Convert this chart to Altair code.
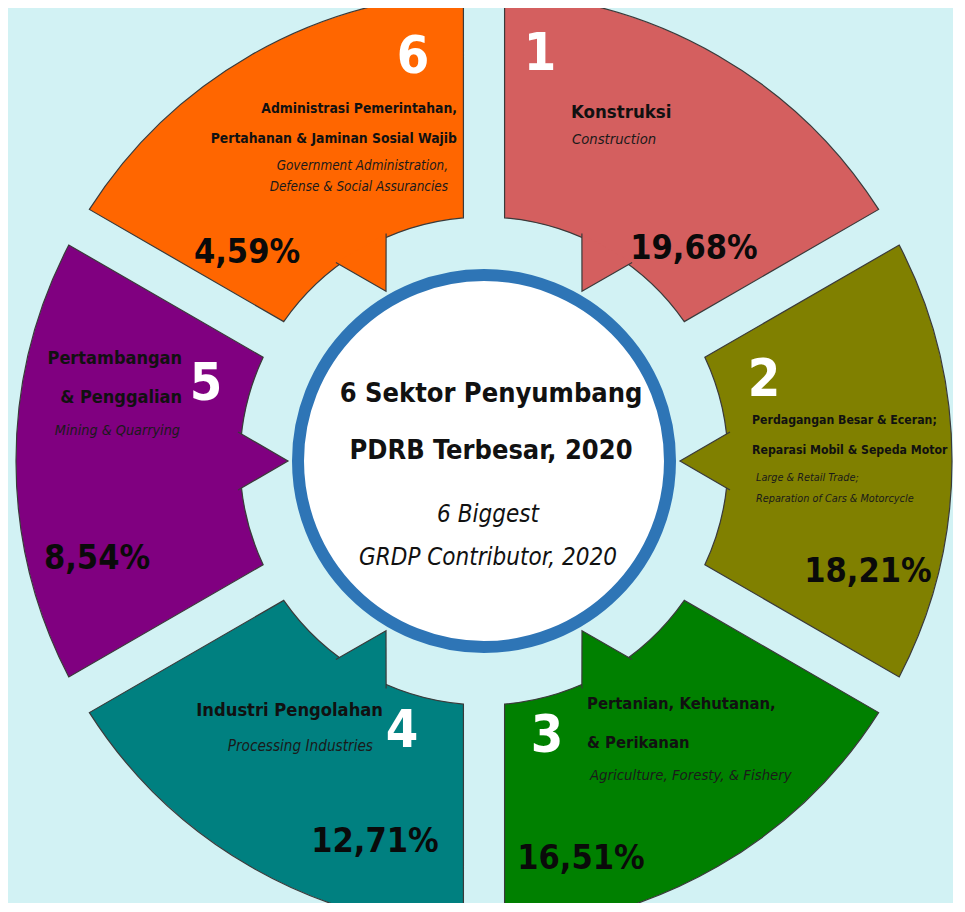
import altair as alt
import pandas as pd

# ---------------- data ----------------
ranks = [1, 2, 3, 4, 5, 6]
sector_id = [
    ["Konstruksi"],
    ["Perdagangan Besar & Eceran;", "Reparasi Mobil & Sepeda Motor"],
    ["Pertanian, Kehutanan,", "& Perikanan"],
    ["Industri Pengolahan"],
    ["Pertambangan", "& Penggalian"],
    ["Administrasi Pemerintahan,", "Pertahanan & Jaminan Sosial Wajib"],
]
sector_en = [
    ["Construction"],
    ["Large & Retail Trade;", "Reparation of Cars & Motorcycle"],
    ["Agriculture, Foresty, & Fishery"],
    ["Processing Industries"],
    ["Mining & Quarrying"],
    ["Government Administration,", "Defense & Social Assurancies"],
]
share_values = [19.68, 18.21, 16.51, 12.71, 8.54, 4.59]
colors = ["#d45f5f", "#808000", "#008000", "#008080", "#800080", "#ff6600"]
title_id = ["6 Sektor Penyumbang", "PDRB Terbesar, 2020"]
title_en = ["6 Biggest", "GRDP Contributor, 2020"]

# ---------------- layout (image coordinates) ----------------
M = 8                      # page margin
CX, CY = 484 - M, 461 - M  # centre of the ring
R_OUT, R_IN = 468, 244
R_TIP, R_BASE = 196, 246
RING_R, RING_W = 186, 12
BG = "#d2f2f4"
FONT = "'Liberation Sans Narrow', 'DejaVu Sans Condensed', 'Roboto', sans-serif"
PCT_SIZE = 34

# per wedge: number (x, baseline), id lines (x, baseline, step, align, size),
# en lines (x, baseline, step, align, size), pct (x, baseline)
layout = {
    1: dict(num=(540, 70), idl=(571, 118, 0, "left", 18.5), enl=(572, 144, 0, "left", 14.7), pct=(694, 259)),
    2: dict(num=(764, 396), idl=(752, 424, 30, "left", 12.2), enl=(756, 481, 21, "left", 10.8), pct=(868, 582)),
    3: dict(num=(547, 752), idl=(587, 709, 39, "left", 16.5), enl=(590, 780, 0, "left", 14.8), pct=(581, 869)),
    4: dict(num=(402, 747), idl=(383, 716, 0, "right", 18.2), enl=(373, 751, 0, "right", 15.2), pct=(375, 852)),
    5: dict(num=(206, 400), idl=(182, 364, 39, "right", 18), enl=(180, 435, 0, "right", 14.3), pct=(97, 569)),
    6: dict(num=(413, 73), idl=(457, 113, 30, "right", 13.8), enl=(448, 170, 21, "right", 13.4), pct=(247, 263)),
}
title_pos = (491, 402, 57, 27)
sub_pos = (488, 522, 43, 24)

rows = []
for i, r in enumerate(ranks):
    L = layout[r]
    rows.append(dict(text=str(r), x=L["num"][0] - M, y=L["num"][1] - M, kind="num", align="center", fs=52))
    x0, y0, st, al, fs = L["idl"]
    for j, t in enumerate(sector_id[i]):
        rows.append(dict(text=t, x=x0 - M, y=y0 + j * st - M, kind="id", align=al, fs=fs))
    x0, y0, st, al, fs = L["enl"]
    for j, t in enumerate(sector_en[i]):
        rows.append(dict(text=t, x=x0 - M, y=y0 + j * st - M, kind="en", align=al, fs=fs))
    pct = f"{share_values[i]:.2f}%".replace(".", ",")
    rows.append(dict(text=pct, x=L["pct"][0] - M, y=L["pct"][1] - M, kind="pct", align="center", fs=PCT_SIZE))
for j, t in enumerate(title_id):
    rows.append(dict(text=t, x=title_pos[0] - M, y=title_pos[1] + j * title_pos[2] - M, kind="title", align="center", fs=title_pos[3]))
for j, t in enumerate(title_en):
    rows.append(dict(text=t, x=sub_pos[0] - M, y=sub_pos[1] + j * sub_pos[2] - M, kind="sub", align="center", fs=sub_pos[3]))
text_df = pd.DataFrame(rows)

wedge_df = pd.DataFrame({"rank": ranks, "slot": [1] * len(ranks)})
color_scale = alt.Scale(domain=ranks, range=colors)

wedges = alt.Chart(wedge_df).mark_arc(
    outerRadius=R_OUT, innerRadius=R_IN, padAngle=0.078,
    stroke="#3a3a3a", strokeWidth=1.2
).encode(
    theta=alt.Theta("slot:Q", stack=True),
    order=alt.Order("rank:O"),
    color=alt.Color("rank:O", scale=color_scale, legend=None),
    x=alt.value(CX), y=alt.value(CY),
)

# inward-pointing arrowheads on each wedge
half = (R_BASE - R_TIP) / 2
mid_r = (R_TIP + R_BASE) / 2
wb = 29 / half
arrow_path = f"M {-wb:.3f} 1 L 0 -1 L {wb:.3f} 1"
arrows = alt.Chart(wedge_df).transform_calculate(
    mid="(datum.rank - 0.5) * 60",
).transform_calculate(
    px=f"{CX} + {mid_r} * sin(datum.mid * PI / 180)",
    py=f"{CY} - {mid_r} * cos(datum.mid * PI / 180)",
    rot="(datum.mid + 180) % 360",
).mark_point(
    shape=arrow_path, filled=True, size=(2 * half) ** 2,
    stroke="#3a3a3a", strokeWidth=1.2, opacity=1
).encode(
    x=alt.X("px:Q", scale=None, axis=None),
    y=alt.Y("py:Q", scale=None, axis=None),
    angle=alt.Angle("rot:Q", scale=None),
    fill=alt.Fill("rank:O", scale=color_scale, legend=None),
)

ring = alt.Chart(pd.DataFrame({"k": [0]})).mark_arc(
    outerRadius=RING_R, theta=0, theta2=6.2832,
    fill="white", stroke="#2e75b6", strokeWidth=RING_W
).encode(x=alt.value(CX), y=alt.value(CY))


def text_layer(kind, align, weight, style, color):
    return alt.Chart(text_df).transform_filter(
        (alt.datum.kind == kind) & (alt.datum.align == align)
    ).mark_text(
        align=align, baseline="alphabetic", font=FONT,
        fontWeight=weight, fontStyle=style, color=color
    ).encode(
        x=alt.X("x:Q", scale=None, axis=None),
        y=alt.Y("y:Q", scale=None, axis=None),
        text="text:N",
        size=alt.Size("fs:Q", scale=None, legend=None),
    )


texts = [
    text_layer("num", "center", "bold", "normal", "white"),
    text_layer("id", "left", "bold", "normal", "#111111"),
    text_layer("id", "right", "bold", "normal", "#111111"),
    text_layer("en", "left", "normal", "italic", "#1a1a1a"),
    text_layer("en", "right", "normal", "italic", "#1a1a1a"),
    text_layer("pct", "center", "bold", "normal", "#0a0a0a"),
    text_layer("title", "center", "bold", "normal", "#111111"),
    text_layer("sub", "center", "normal", "italic", "#111111"),
]

chart = alt.layer(wedges, arrows, ring, *texts).properties(
    width=945, height=895,
    autosize=alt.AutoSizeParams(type="none"),
    padding=0,
    background=BG,
).configure_view(stroke=None, fill=BG)

chart.save("out.html", embed_options={"renderer": "svg", "actions": False})
